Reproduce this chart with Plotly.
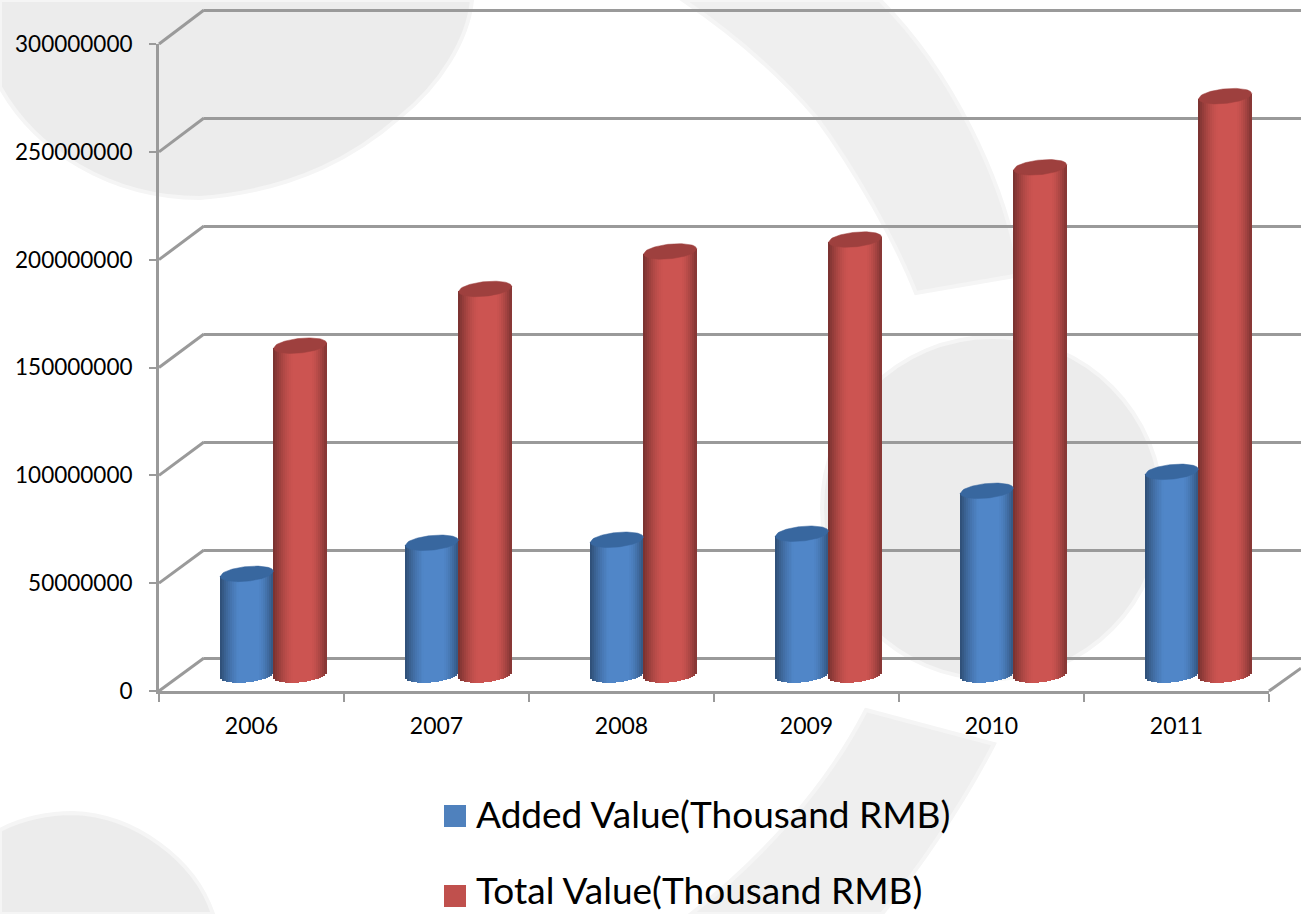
import numpy as np
import plotly.graph_objects as go

# ---- data -----------------------------------------------------------------
years = ["2006", "2007", "2008", "2009", "2010", "2011"]
added_value = [46900000, 61300000, 62700000, 65500000, 85400000, 94200000]
total_value = [152700000, 179000000, 196400000, 201900000, 235400000, 268400000]
y_ticks = [0, 50000000, 100000000, 150000000, 200000000, 250000000, 300000000]
series_names = ["Added Value(Thousand RMB)", "Total Value(Thousand RMB)"]

W, H = 1301, 914
FONT = "Lato"
GREY = "#9a9a9a"
WM = "#ececec"
WM_BAND = "#efefef"


def px(x):
    return x / W


def py(y):
    return 1 - y / H


fig = go.Figure()

# Anchor trace for the front (labelled) axes
fig.add_trace(go.Bar(x=years, y=total_value, xaxis="x", yaxis="y", opacity=0,
                     hoverinfo="skip", showlegend=False))
# Anchor trace for the back wall
fig.add_trace(go.Scatter(x=[0], y=[None], xaxis="x2", yaxis="y2", mode="lines",
                         hoverinfo="skip", showlegend=False))

# Cylinders: vertical strips drawn through the mid-depth axes
HALF = 0.144
CAP = 3.4e6
TILT = 1.2e6
N = 27
edges = np.linspace(-1, 1, N + 1)
idx = list(range(len(years)))


def shade(c, u):
    if u < 0:
        d = max(0.0, (abs(u) - 0.25) / 0.75) ** 1.5 * 0.42
    else:
        d = max(0.0, (abs(u) - 0.45) / 0.55) ** 1.5 * 0.36
    return "rgb(%d,%d,%d)" % tuple(int(v * (1 - d)) for v in c)


specs = [
    (added_value, -HALF, (80, 134, 200), "#38679f", series_names[0]),
    (total_value, HALF, (204, 84, 81), "#9e403e", series_names[1]),
]
for values, shift, base_col, cap_col, name in specs:
    for k in range(N):
        u = (edges[k] + edges[k + 1]) / 2
        bottom = TILT * u - CAP * np.sqrt(max(0.0, 1 - u * u))
        bases = [bottom] * len(values)
        heights = [v + TILT * u - bottom for v in values]
        fig.add_trace(go.Bar(
            x=idx, y=heights, base=bases, name=name,
            width=2 * HALF / N,
            offset=shift + HALF * edges[k],
            marker=dict(color=shade(base_col, u), line=dict(width=0)),
            xaxis="x3", yaxis="y3", hoverinfo="skip", showlegend=False))

for values, shift, base_col, cap_col, name in specs:
    us = np.linspace(-1, 1, 40)
    cx, cy = [], []
    for i, v in zip(idx, values):
        s = np.sqrt(1 - us ** 2)
        cx += list(i + shift + HALF * us) + list(i + shift + HALF * us[::-1]) + [None]
        cy += list(v + TILT * us + CAP * s) + list(v + TILT * us[::-1] - CAP * s[::-1]) + [None]
    fig.add_trace(go.Scatter(
        x=cx, y=cy, mode="lines", fill="toself", fillcolor=cap_col,
        line=dict(width=0.5, color=cap_col), xaxis="x3", yaxis="y3",
        hoverinfo="skip", showlegend=False))

# ---- watermark shapes (pixel outlines converted to paper space) ------------


def path(cmds):
    out = []
    for c in cmds:
        if c == "Z":
            out.append("Z")
        else:
            letter, pts = c
            out.append(letter + " ".join("%.5f,%.5f" % (px(a), py(b)) for a, b in pts))
    return " ".join(out)


wm_paths = [
    # top-left disc
    (WM, [("M", [(0, 0)]), ("L", [(472, 0)]),
          ("C", [(468, 40), (440, 85), (400, 117)]),
          ("C", [(360, 152), (300, 190), (200, 198)]),
          ("C", [(110, 198), (35, 150), (0, 87)]), "Z"]),
    # upper band
    (WM_BAND, [("M", [(683, 0)]),
               ("C", [(735, 35), (780, 75), (816, 117)]),
               ("C", [(855, 170), (895, 240), (916, 293)]),
               ("L", [(1020, 275)]),
               ("C", [(1005, 180), (950, 70), (880, 0)]), "Z"]),
    # right disc
    (WM, [("M", [(822, 508)]),
          ("C", [(822, 414), (898, 337), (992, 337)]),
          ("C", [(1086, 337), (1162, 414), (1162, 508)]),
          ("C", [(1162, 602), (1086, 679), (992, 679)]),
          ("C", [(898, 679), (822, 602), (822, 508)]), "Z"]),
    # lower band
    (WM_BAND, [("M", [(866, 710)]), ("L", [(994, 744)]),
               ("C", [(965, 800), (925, 860), (882, 914)]),
               ("L", [(691, 914)]),
               ("C", [(760, 860), (825, 790), (866, 710)]), "Z"]),
    # bottom-left disc
    (WM, [("M", [(0, 830)]),
          ("C", [(22, 818), (50, 813), (73, 813)]),
          ("C", [(135, 815), (195, 860), (213, 914)]),
          ("L", [(0, 914)]), "Z"]),
]
shapes = [dict(type="path", xref="paper", yref="paper", layer="below",
               path=path(p), fillcolor=c, line=dict(color="#f5f5f5", width=4))
          for c, p in wm_paths]

# ---- depth lines joining the front axes to the back wall --------------------
F_TOP, F_BOT = 44, 691
B_TOP, B_BOT = 10, 658
step_f = (F_BOT - F_TOP) / (len(y_ticks) - 1)
step_b = (B_BOT - B_TOP) / (len(y_ticks) - 1)
for j in range(len(y_ticks)):
    shapes.append(dict(type="line", xref="paper", yref="paper", layer="above",
                       x0=px(159), y0=py(F_BOT - j * step_f),
                       x1=px(204), y1=py(B_BOT - j * step_b),
                       line=dict(color=GREY, width=3)))
shapes.append(dict(type="line", xref="paper", yref="paper", layer="above",
                   x0=px(1269), y0=py(F_BOT), x1=px(1301), y1=py(F_BOT - 32 * 32 / 45),
                   line=dict(color=GREY, width=3)))

# ---- legend ----------------------------------------------------------------
annotations = []
for name, col, cy, ty in zip(series_names, ["#4f81bd", "#c0504d"], [816, 896], [813, 889]):
    shapes.append(dict(type="rect", xref="paper", yref="paper",
                       x0=px(444), x1=px(466), y0=py(cy - 11), y1=py(cy + 11),
                       fillcolor=col, line=dict(width=0)))
    annotations.append(dict(xref="paper", yref="paper", x=px(474), y=py(ty),
                            xanchor="left", yanchor="middle", text=name, showarrow=False,
                            font=dict(family=FONT, size=37, color="#000000")))

BAR_TOP = F_TOP - 16
ZERO_B = F_BOT - 16
scale = (F_BOT - F_TOP) / 3e8
LOW = -1e7
back_scale = (B_BOT - B_TOP) / 3e8
BACK_HEAD = 3e6
fig.update_layout(
    width=W, height=H, autosize=False,
    margin=dict(l=0, r=0, t=0, b=0),
    paper_bgcolor="#ffffff", plot_bgcolor="rgba(0,0,0,0)",
    barmode="overlay", bargap=0, showlegend=False,
    font=dict(family=FONT, color="#000000"),
    shapes=shapes, annotations=annotations,
    xaxis=dict(domain=[px(159), px(1269)], type="category", categoryorder="array",
               categoryarray=years, tickson="boundaries", ticks="outside", ticklen=8,
               tickwidth=2, tickcolor=GREY, showline=True, linecolor=GREY, linewidth=3,
               showgrid=False, zeroline=False, anchor="y", ticklabelstandoff=12,
               automargin=False,
               tickfont=dict(family=FONT, size=23, color="#000000")),
    yaxis=dict(domain=[py(F_BOT), py(F_TOP)], range=[0, 3e8], tickvals=y_ticks,
               tickformat="d", ticks="outside", ticklen=7, tickwidth=2, tickcolor=GREY,
               showline=True, linecolor=GREY, linewidth=3, showgrid=False, zeroline=False,
               anchor="x", ticklabelstandoff=12, automargin=False,
               tickfont=dict(family=FONT, size=22.5, color="#000000")),
    xaxis2=dict(domain=[px(204), 1], range=[0, 1], visible=False, anchor="y2", automargin=False),
    yaxis2=dict(domain=[py(B_BOT), py(B_TOP - BACK_HEAD * back_scale)], range=[0, 3e8 + BACK_HEAD],
                tickvals=y_ticks, showticklabels=False, ticks="", showline=False, showgrid=True,
                gridcolor=GREY, gridwidth=3, zeroline=True, zerolinecolor=GREY,
                zerolinewidth=3, anchor="x2", automargin=False),
    xaxis3=dict(domain=[px(181), px(1291)], range=[-0.5, 5.5], visible=False, anchor="y3",
                automargin=False),
    yaxis3=dict(domain=[py(ZERO_B - LOW * scale), py(BAR_TOP)], range=[LOW, 3e8],
                visible=False, anchor="x3", automargin=False),
)

fig.write_html("out.html", post_script="document.body.style.margin='0';",
               config=dict(displayModeBar=False))
